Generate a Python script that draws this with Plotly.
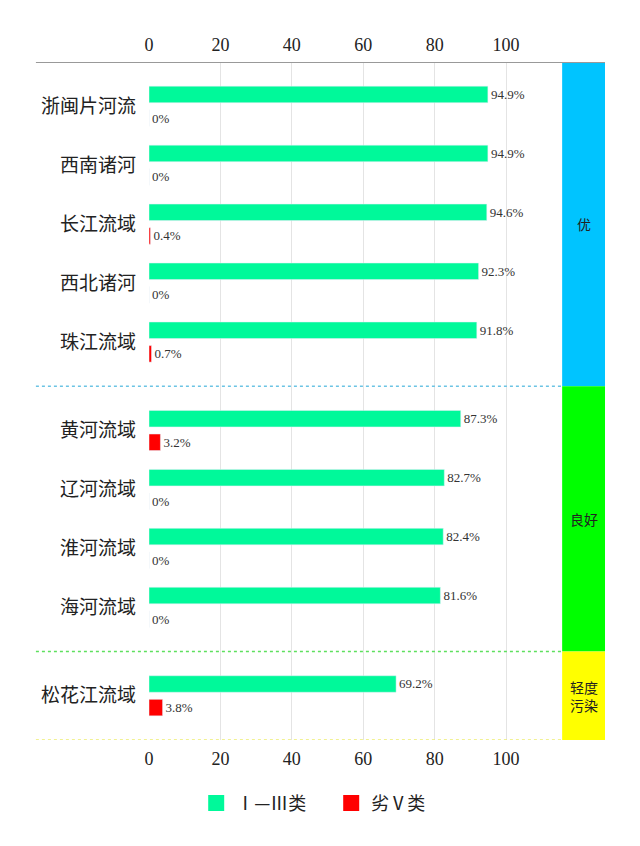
import plotly.graph_objects as go

# data
basins = ["浙闽片河流", "西南诸河", "长江流域", "西北诸河", "珠江流域",
          "黄河流域", "辽河流域", "淮河流域", "海河流域", "松花江流域"]
grade_one_three = [94.9, 94.9, 94.6, 92.3, 91.8, 87.3, 82.7, 82.4, 81.6, 69.2]
grade_below_five = [0, 0, 0.4, 0, 0.7, 3.2, 0, 0, 0, 3.8]
basin_group = [0, 0, 0, 0, 0, 1, 1, 1, 1, 2]
group_names = ["优", "良好", "轻度<br>污染"]
group_colors = ["#00C4FF", "#00FF00", "#FFFF00"]
divider_colors = ["#6CC4E4", "#5EE05E", "#EDED70"]
x_ticks = [0, 20, 40, 60, 80, 100]

# row positions, with an extra half row between groups
GAP = 0.5
ypos = [i + GAP * g for i, g in enumerate(basin_group)]
y_top = ypos[0] - 0.75
y_bottom = ypos[-1] + 0.75

serif = "Liberation Serif, Times New Roman, serif"
cjk = "Noto Sans CJK SC"
BAR_W = 0.28
GREEN = "#00F99A"
RED = "#FF0000"

fig = go.Figure()

fig.add_trace(go.Bar(
    name="Ⅰ—Ⅲ类", y=ypos, x=grade_one_three, orientation="h",
    width=BAR_W, offset=-0.34, marker_color=GREEN,
    text=[f"{v}%" for v in grade_one_three], textposition="outside",
    textfont=dict(family=serif, size=13, color="#333"),
    cliponaxis=False, showlegend=False,
))
fig.add_trace(go.Bar(
    name="劣Ⅴ类", y=ypos, x=grade_below_five, orientation="h",
    width=BAR_W, offset=0.06, marker_color=RED,
    text=[f"{v:g}%" for v in grade_below_five], textposition="outside",
    textfont=dict(family=serif, size=13, color="#333"),
    cliponaxis=False, showlegend=False,
))
# legend entries with bigger square swatches
for nm, col in [("Ⅰ—Ⅲ类", GREEN), ("劣Ⅴ类", RED)]:
    fig.add_trace(go.Scatter(x=[None], y=[None], name=nm, mode="markers",
                             marker=dict(symbol="square", size=16, color=col)))
# invisible trace so the bottom axis gets drawn
fig.add_trace(go.Scatter(x=[0, 100], y=[ypos[0], ypos[0]], xaxis="x2",
                         mode="markers", marker_opacity=0,
                         showlegend=False, hoverinfo="skip"))

x_max = 127.7
band_x0 = 115.7

shapes = []
# top solid rule
shapes.append(dict(type="line", xref="paper", yref="y", x0=-0.248, x1=1,
                   y0=y_top, y1=y_top, line=dict(color="#999", width=2)))
# group bands and dotted dividers
for g in range(len(group_names)):
    rows = [y for y, gg in zip(ypos, basin_group) if gg == g]
    y0 = y_top if g == 0 else rows[0] - 0.75
    y1 = rows[-1] + 0.75
    shapes.append(dict(type="rect", xref="x", yref="y", x0=band_x0, x1=x_max,
                       y0=y0, y1=y1, fillcolor=group_colors[g],
                       line_width=0, layer="below"))
    shapes.append(dict(type="line", xref="paper", yref="y", x0=-0.248,
                       x1=(band_x0 / x_max), y0=y1, y1=y1,
                       line=dict(color=divider_colors[g], width=1.5,
                                 dash="dot")))
    fig.add_annotation(x=(band_x0 + x_max) / 2, y=(y0 + y1) / 2, xref="x",
                       yref="y", text=group_names[g], showarrow=False,
                       font=dict(family=cjk, size=14, color="#222"))

fig.update_layout(
    width=640, height=846,
    margin=dict(l=141, r=43, t=54, b=114, autoexpand=False),
    plot_bgcolor="white", paper_bgcolor="white",
    barmode="overlay",
    shapes=shapes,
    showlegend=True,
    legend=dict(orientation="h", x=0.505, xanchor="center", xref="container",
                y=0.06, yanchor="middle", yref="container",
                font=dict(family=cjk, size=18, color="#222"),
                itemwidth=30, entrywidth=90, tracegroupgap=0),
    xaxis=dict(side="top", range=[0, x_max], tickvals=x_ticks,
               showgrid=True, gridcolor="#E4E4E4", gridwidth=1,
               zeroline=False, showline=False, automargin=False,
               ticklabelstandoff=6,
               tickfont=dict(family=serif, size=18, color="#222")),
    xaxis2=dict(overlaying="x", side="bottom", matches="x", range=[0, x_max],
                tickvals=x_ticks, showgrid=False, zeroline=False,
                showline=False, automargin=False, ticklabelstandoff=6,
                tickfont=dict(family=serif, size=18, color="#222")),
    yaxis=dict(range=[y_bottom, y_top], tickvals=ypos, ticktext=basins,
               showgrid=False, zeroline=False, showline=False,
               ticklabelstandoff=12, automargin=False,
               tickfont=dict(family=cjk, size=19, color="#222")),
)

fig.write_html("out.html")
